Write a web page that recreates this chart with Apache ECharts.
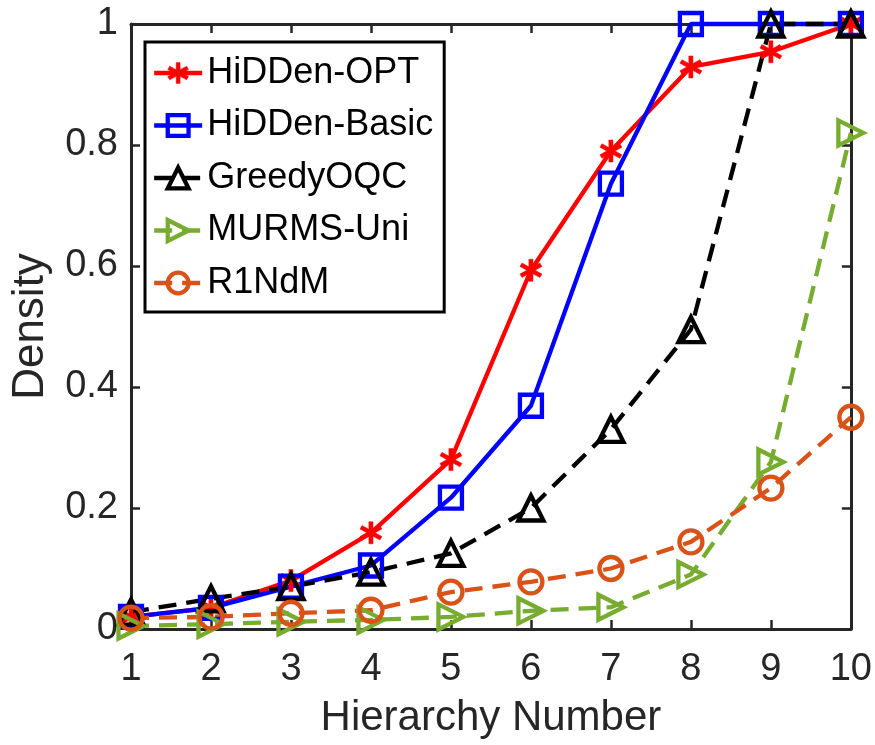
<!DOCTYPE html>
<html>
<head>
<meta charset="utf-8">
<script src="https://cdn.jsdelivr.net/npm/echarts@6/dist/echarts.min.js"></script>
<style>
html,body{margin:0;padding:0;background:#fff;}
#chart{width:875px;height:745px;}
</style>
</head>
<body>
<div id="chart"></div>
<script>
const hierarchy = [1, 2, 3, 4, 5, 6, 7, 8, 9, 10];
const hiddenOpt   = [0.020, 0.035, 0.080, 0.159, 0.280, 0.593, 0.790, 0.929, 0.954, 1.000];
const hiddenBasic = [0.020, 0.035, 0.070, 0.105, 0.217, 0.369, 0.736, 1.000, 1.000, 1.000];
const greedyOQC   = [0.028, 0.050, 0.070, 0.094, 0.125, 0.200, 0.330, 0.495, 1.000, 1.000];
const murmsUni    = [0.005, 0.008, 0.012, 0.015, 0.020, 0.030, 0.036, 0.090, 0.276, 0.820];
const r1ndm       = [0.018, 0.020, 0.026, 0.031, 0.061, 0.078, 0.100, 0.144, 0.233, 0.350];
const seriesNames = ['HiDDen-OPT', 'HiDDen-Basic', 'GreedyOQC', 'MURMS-Uni', 'R1NdM'];
const yTicks = [0, 0.2, 0.4, 0.6, 0.8, 1];

const asterisk = 'path://M41,0L59,0L59,100L41,100Z' +
  'M98.2,67.3L89.2,82.9L1.8,32.7L10.8,17.1Z' +
  'M89.2,17.1L98.2,32.7L10.8,82.9L1.8,67.3Z';

function pts(arr) { return hierarchy.map((x, i) => [x, arr[i]]); }

const axisColor = '#262626';
const font = 'Liberation Sans, Arial, Helvetica, sans-serif';
const LW = 4.3;

function mkSeries(name, data, color, dashed, symbol, size, rotate, filled) {
  return {
    name: name,
    type: 'line',
    data: pts(data),
    clip: false,
    symbol: symbol,
    symbolSize: size,
    symbolRotate: rotate,
    showAllSymbol: true,
    lineStyle: { color: color, width: LW, type: dashed ? [18, 10] : 'solid' },
    itemStyle: filled
      ? { color: color, borderColor: color, borderWidth: 0.5 }
      : { color: 'rgba(255,255,255,0)', borderColor: color, borderWidth: LW },
    emphasis: { disabled: true },
    animation: false
  };
}

const chart = echarts.init(document.getElementById('chart'), null, { renderer: 'canvas' });
const axisCommon = {
  type: 'value',
  axisLine: { show: true, onZero: false, lineStyle: { color: axisColor, width: 3 } },
  axisTick: { show: true, inside: true, length: 9, lineStyle: { color: axisColor, width: 2.5 } },
  splitLine: { show: false }
};
const legendData = seriesNames.map((n, i) => i === 0
  ? { name: n, itemStyle: { borderWidth: 0.5 } }
  : { name: n });
chart.setOption({
  backgroundColor: '#ffffff',
  animation: false,
  grid: { left: 131, right: 23, top: 24, bottom: 116, containLabel: false },
  xAxis: [
    Object.assign({}, axisCommon, {
      min: 1, max: 10, interval: 1, position: 'bottom',
      name: 'Hierarchy Number', nameLocation: 'middle', nameGap: 68,
      nameTextStyle: { fontFamily: font, fontSize: 42, color: axisColor },
      axisLabel: { show: true, margin: 22, fontFamily: font, fontSize: 38, color: axisColor }
    }),
    Object.assign({}, axisCommon, {
      min: 1, max: 10, interval: 1, position: 'top',
      axisLabel: { show: false }
    })
  ],
  yAxis: [
    Object.assign({}, axisCommon, {
      min: 0, max: 1, interval: 0.2, position: 'left',
      name: 'Density', nameLocation: 'middle', nameGap: 78,
      nameTextStyle: { fontFamily: font, fontSize: 44, color: axisColor },
      axisLabel: { show: true, margin: 13, fontFamily: font, fontSize: 38, color: axisColor,
        formatter: function (v) { return yTicks.indexOf(Math.round(v * 10) / 10) >= 0 ? String(Math.round(v * 10) / 10) : ''; } }
    }),
    Object.assign({}, axisCommon, {
      min: 0, max: 1, interval: 0.2, position: 'right',
      axisLabel: { show: false }
    })
  ],
  legend: {
    left: 145, top: 42,
    orient: 'vertical',
    data: legendData,
    backgroundColor: '#ffffff',
    borderColor: '#000000',
    borderWidth: 3,
    padding: [11, 11, 9, 7],
    itemWidth: 48,
    itemHeight: 26,
    itemGap: 12.5,
    lineStyle: { width: LW },
    itemStyle: { borderWidth: LW },
    textStyle: { fontFamily: font, fontSize: 36, color: '#000000', lineHeight: 40 },
    selectedMode: false
  },
  series: [
    mkSeries(seriesNames[0], hiddenOpt, '#FF0000', false, asterisk, 22, 0, true),
    mkSeries(seriesNames[1], hiddenBasic, '#0000FF', false, 'rect', 22, 0, false),
    mkSeries(seriesNames[2], greedyOQC, '#000000', true, 'triangle', 25, 0, false),
    mkSeries(seriesNames[3], murmsUni, '#77AC30', true, 'triangle', 25, -90, false),
    mkSeries(seriesNames[4], r1ndm, '#D95319', true, 'circle', 23, 0, false)
  ]
});
</script>
</body>
</html>
